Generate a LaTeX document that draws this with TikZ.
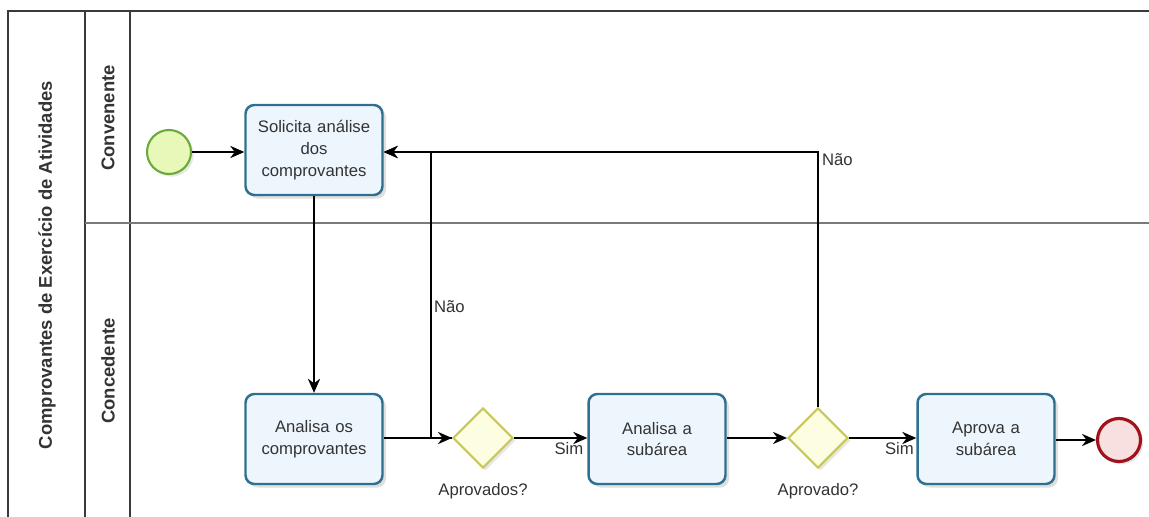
\documentclass[tikz,border=0pt]{standalone}
\usepackage{fontspec}
\setmainfont{Liberation Sans}
\usetikzlibrary{arrows.meta,positioning,shapes.geometric,shadows}
\definecolor{TaskLine}{HTML}{2F6F8F}
\definecolor{TaskFill}{HTML}{EEF6FD}
\definecolor{GateLine}{HTML}{C9C65A}
\definecolor{GateFill}{HTML}{FDFDE2}
\definecolor{StartLine}{HTML}{6BAA3A}
\definecolor{StartFill}{HTML}{E8F8B8}
\definecolor{EndLine}{HTML}{A2121C}
\definecolor{EndFill}{HTML}{F8E0E0}
\definecolor{PoolLine}{HTML}{3A3A3A}
\definecolor{LaneLine}{HTML}{7A7A7A}
\definecolor{TextGray}{HTML}{333333}
\tikzset{
    every node/.style={font=\fontsize{9.5}{12.4}\selectfont, text=TextGray},
    task/.style={
        draw=TaskLine, fill=TaskFill, line width=1.4pt,
        minimum width=2.74cm, minimum height=1.8cm,
        align=center, rounded corners=5pt, text width=2.4cm,
        drop shadow={opacity=0.25, shadow xshift=2pt, shadow yshift=-2pt}
    },
    gate/.style={
        diamond, draw=GateLine, fill=GateFill, line width=1.2pt,
        minimum size=1.2cm, inner sep=0pt,
        drop shadow={opacity=0.2, shadow xshift=1.5pt, shadow yshift=-1.5pt}
    },
    startev/.style={
        circle, draw=StartLine, fill=StartFill, line width=1.2pt,
        minimum size=0.88cm, inner sep=0pt,
        drop shadow={opacity=0.2, shadow xshift=1.5pt, shadow yshift=-1.5pt}
    },
    endev/.style={
        circle, draw=EndLine, fill=EndFill, line width=1.8pt,
        minimum size=0.86cm, inner sep=0pt,
        drop shadow={opacity=0.2, shadow xshift=1.5pt, shadow yshift=-1.5pt}
    },
    flow/.style={
        -{Stealth[length=8pt,width=7pt]}, line width=0.9pt, color=black
    },
    lanetitle/.style={
        rotate=90, font=\fontsize{10.5}{12}\selectfont\bfseries, text=TextGray
    },
    flowlabel/.style={
        font=\fontsize{9.5}{11}\selectfont, text=TextGray, inner sep=1pt
    },
}

\begin{document}
\begin{tikzpicture}[x=0.02cm, y=-0.02cm]
    \useasboundingbox (0,0) rectangle (1149,517);

    % Pool and lanes
    \draw[PoolLine, line width=0.9pt] (8,517) -- (8,11) -- (1149,11);
    \draw[PoolLine, line width=0.9pt] (85,11) -- (85,517);
    \draw[PoolLine, line width=0.9pt] (130,11) -- (130,517);
    \draw[LaneLine, line width=0.9pt] (85,223) -- (1149,223);

    \node[lanetitle] (pooltitle) at (47,265) {Comprovantes de Exercício de Atividades};
    \node[lanetitle] (convenente) at (108,118) {Convenente};
    \node[lanetitle] (concedente) at (108,371) {Concedente};

    % Convenente lane
    \node[startev] (start) at (169,152) {};
    \node[task] (solicita) at (314,150) {Solicita análise\\dos\\comprovantes};

    % Concedente lane
    \node[task] (analisa) at (314,439) {Analisa os\\comprovantes};
    \node[gate] (aprovados) at (483,438) {};
    \node[task] (subarea) at (657,439) {Analisa a\\subárea};
    \node[gate] (aprovado) at (818,438) {};
    \node[task] (aprova) at (986,439) {Aprova a\\subárea};
    \node[endev] (fim) at (1119,440) {};

    \node[flowlabel] (lblgate1) at (483,491) {Aprovados?};
    \node[flowlabel] (lblgate2) at (818,491) {Aprovado?};

    % Sequence flows
    \draw[flow] (start) -- (start -| solicita.west);
    \draw[flow] (solicita) -- (analisa);
    \draw[flow] (analisa.east |- aprovados) -- (aprovados.west);
    \draw[flow] (aprovados.east) -- (subarea.west |- aprovados)
        node[flowlabel, pos=0.75, below, yshift=-1pt] {Sim};
    \draw[flow] (subarea.east |- aprovado) -- (aprovado.west);
    \draw[flow] (aprovado.east) -- (aprova.west |- aprovado)
        node[flowlabel, pos=0.75, below, yshift=-1pt] {Sim};
    \draw[flow] (aprova.east |- fim) -- (fim.west);

    % Return flows
    \coordinate (volta1) at (431,438);
    \coordinate (topo) at (431,152);
    \draw[flow] (aprovados.west) -- (volta1) -- (topo) -- (solicita.east |- topo);
    \node[flowlabel, anchor=west] (nao1) at (432,307) {Não};
    \draw[flow] (aprovado.north) |- (solicita.east |- topo);
    \node[flowlabel, anchor=west] (nao2) at (820,160) {Não};
\end{tikzpicture}
\end{document}
